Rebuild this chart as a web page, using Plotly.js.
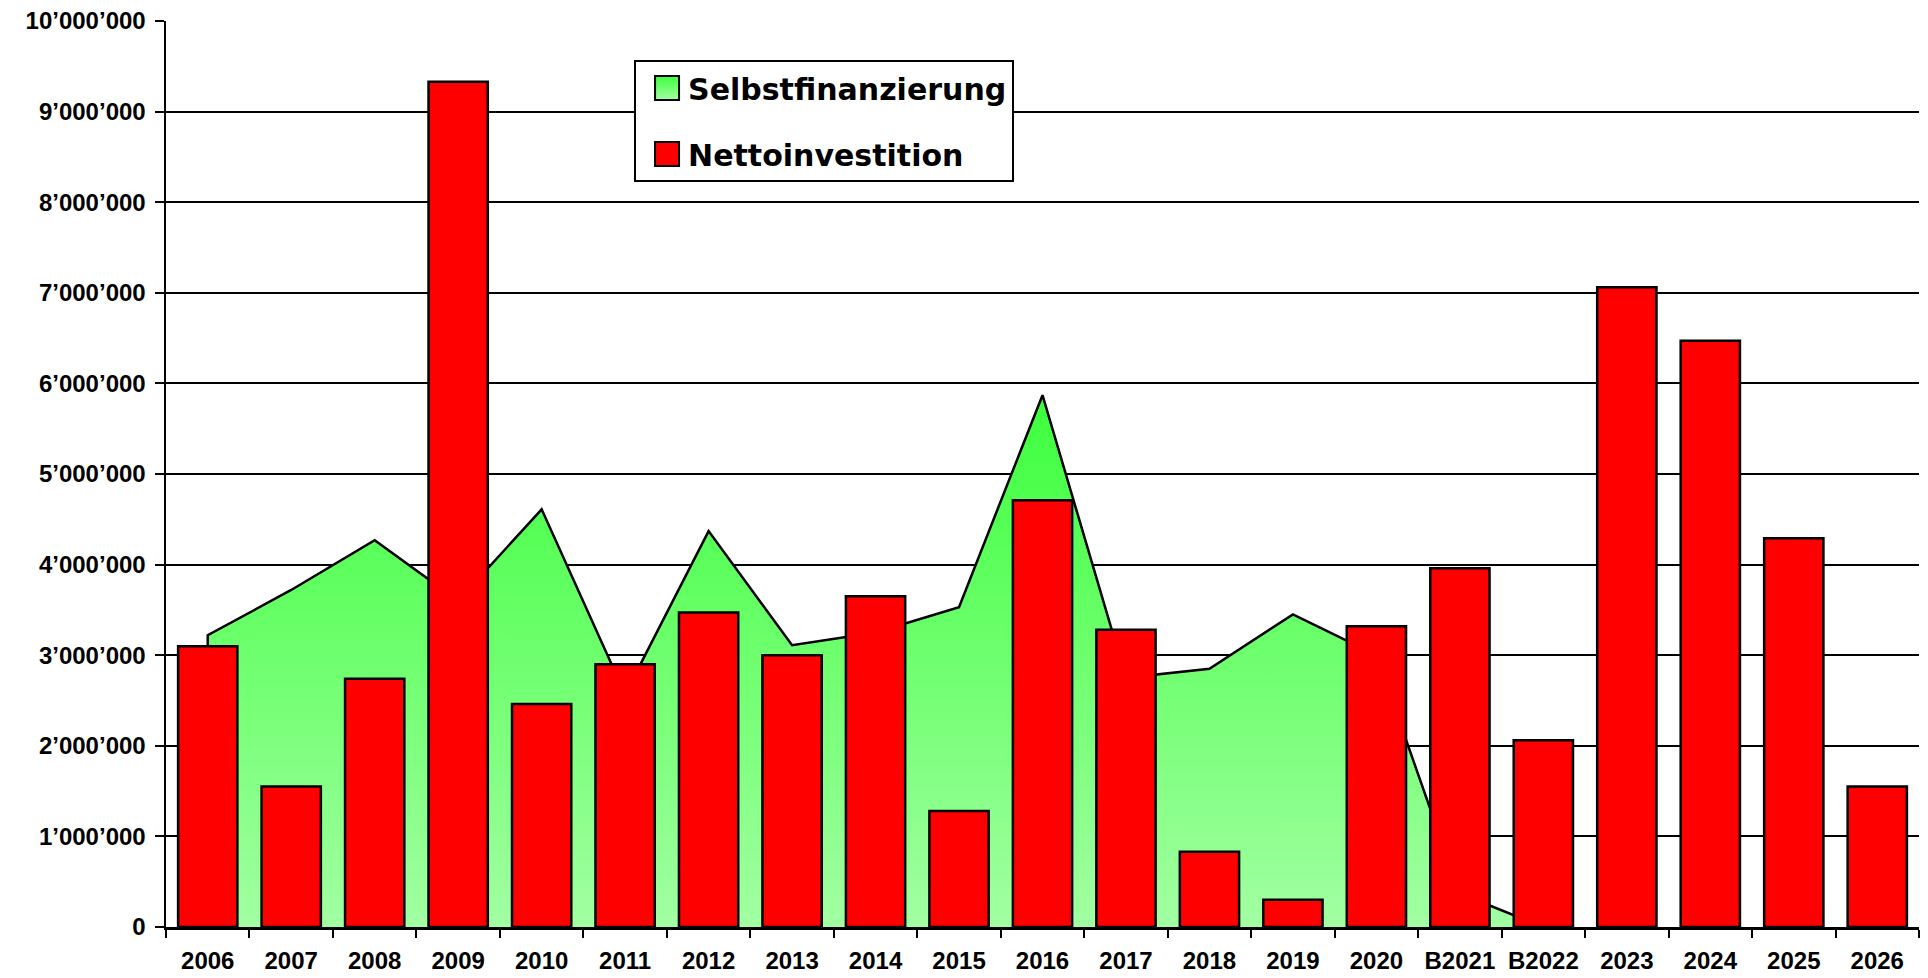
<!DOCTYPE html>
<html>
<head>
<meta charset="utf-8">
<script src="https://cdn.plot.ly/plotly-3.0.1.min.js"></script>
<style>
html, body { margin: 0; padding: 0; background: #ffffff; }
#chart { width: 1928px; height: 978px; }
</style>
</head>
<body>
<div id="chart"></div>
<script>
// Categories (years, B = Budget)
var categories = ['2006','2007','2008','2009','2010','2011','2012','2013','2014','2015','2016','2017','2018','2019','2020','B2021','B2022','2023','2024','2025','2026'];

// Nettoinvestition (bars)
var nettoinvestition = [3100000, 1550000, 2740000, 9330000, 2460000, 2900000, 3470000, 3000000, 3650000, 1280000, 4710000, 3280000, 830000, 300000, 3320000, 3960000, 2060000, 7060000, 6470000, 4290000, 1550000];

// Selbstfinanzierung (area), available 2006 .. B2022
var selbstfinanzierung = [3220000, 3720000, 4270000, 3600000, 4610000, 2570000, 4370000, 3110000, 3250000, 3530000, 5870000, 2750000, 2850000, 3450000, 3000000, 370000, 0];

var seriesNames = ['Selbstfinanzierung', 'Nettoinvestition'];

// area polygon starts at the baseline of the first category (vertical left edge)
var areaX = [categories[0]].concat(categories.slice(0, selbstfinanzierung.length));
var areaY = [0].concat(selbstfinanzierung);

var tickFont = {family: 'Liberation Sans, Arial, sans-serif', size: 24, weight: 'bold', color: '#000000'};

var traces = [
  {
    type: 'scatter',
    mode: 'lines',
    name: seriesNames[0],
    legendgroup: 'a',
    x: areaX,
    y: areaY,
    xaxis: 'x',
    yaxis: 'y',
    fill: 'tozeroy',
    fillgradient: {type: 'vertical', colorscale: [[0, '#a2ffa2'], [1, '#3cff3c']]},
    line: {color: '#000000', width: 2.5, shape: 'linear'},
    hoverinfo: 'x+y'
  },
  {
    type: 'bar',
    name: seriesNames[1],
    legendgroup: 'b',
    x: categories,
    y: nettoinvestition,
    xaxis: 'x',
    yaxis: 'y2',
    marker: {color: '#ff0000', line: {color: '#000000', width: 2.5}}
  }
];

var layout = {
  width: 1928,
  height: 978,
  paper_bgcolor: '#ffffff',
  plot_bgcolor: '#ffffff',
  separators: '.\u2019',
  margin: {l: 166, r: 9, t: 21, b: 51, pad: 0},
  bargap: 0.29,
  showlegend: true,
  legend: {
    x: 0.267, y: 0.957, xanchor: 'left', yanchor: 'top',
    bgcolor: '#ffffff',
    bordercolor: '#000000',
    borderwidth: 2,
    traceorder: 'grouped',
    tracegroupgap: 24,
    itemwidth: 42,
    font: {family: 'DejaVu Sans, sans-serif', size: 30, weight: 'bold', color: '#000000'}
  },
  xaxis: {
    type: 'category',
    categoryorder: 'array',
    categoryarray: categories,
    range: [-0.5, categories.length - 0.5],
    tickson: 'boundaries',
    ticks: 'outside',
    ticklen: 8,
    tickwidth: 2,
    tickcolor: '#000000',
    showline: true,
    linecolor: '#000000',
    linewidth: 2.5,
    showgrid: false,
    zeroline: false,
    tickfont: tickFont,
    ticklabelstandoff: 11,
    fixedrange: true
  },
  yaxis: {
    range: [0, 10000000],
    tick0: 0,
    dtick: 1000000,
    tickformat: ',d',
    ticks: 'outside',
    ticklen: 9,
    tickwidth: 2,
    tickcolor: '#000000',
    showline: true,
    linecolor: '#000000',
    linewidth: 2.5,
    showgrid: true,
    gridcolor: '#000000',
    gridwidth: 2,
    zeroline: false,
    tickfont: tickFont,
    ticklabelstandoff: 4,
    fixedrange: true
  },
  yaxis2: {
    overlaying: 'y',
    range: [0, 10000000],
    showgrid: false,
    showline: false,
    zeroline: false,
    showticklabels: false,
    ticks: '',
    fixedrange: true
  }
};

// enlarge the legend swatches to square boxes with a black border (styling only)
function squareLegendSymbols(gd) {
  var items = gd.querySelectorAll('.legend .traces');
  items.forEach(function (item) {
    var paths = item.querySelectorAll('.layers path');
    paths.forEach(function (p) {
      var bb;
      try { bb = p.getBBox(); } catch (e) { return; }
      if (!bb || (bb.width === 0 && bb.height === 0)) return;
      var cx = bb.x + bb.width / 2 + 5;
      var h = 12;
      p.setAttribute('d', 'M' + (cx - h) + ',' + (-h) + 'h' + (2 * h) + 'v' + (2 * h) + 'h' + (-2 * h) + 'z');
      p.style.strokeWidth = '2px';
      p.style.stroke = '#000000';
      if (p.classList.contains('js-line')) { p.style.fill = 'none'; }
      if (p.classList.contains('js-fill')) { p.style.strokeWidth = '0px'; }
    });
  });
}

var gd = document.getElementById('chart');
Plotly.newPlot(gd, traces, layout, {displayModeBar: false, staticPlot: true}).then(function () {
  squareLegendSymbols(gd);
});
</script>
</body>
</html>
